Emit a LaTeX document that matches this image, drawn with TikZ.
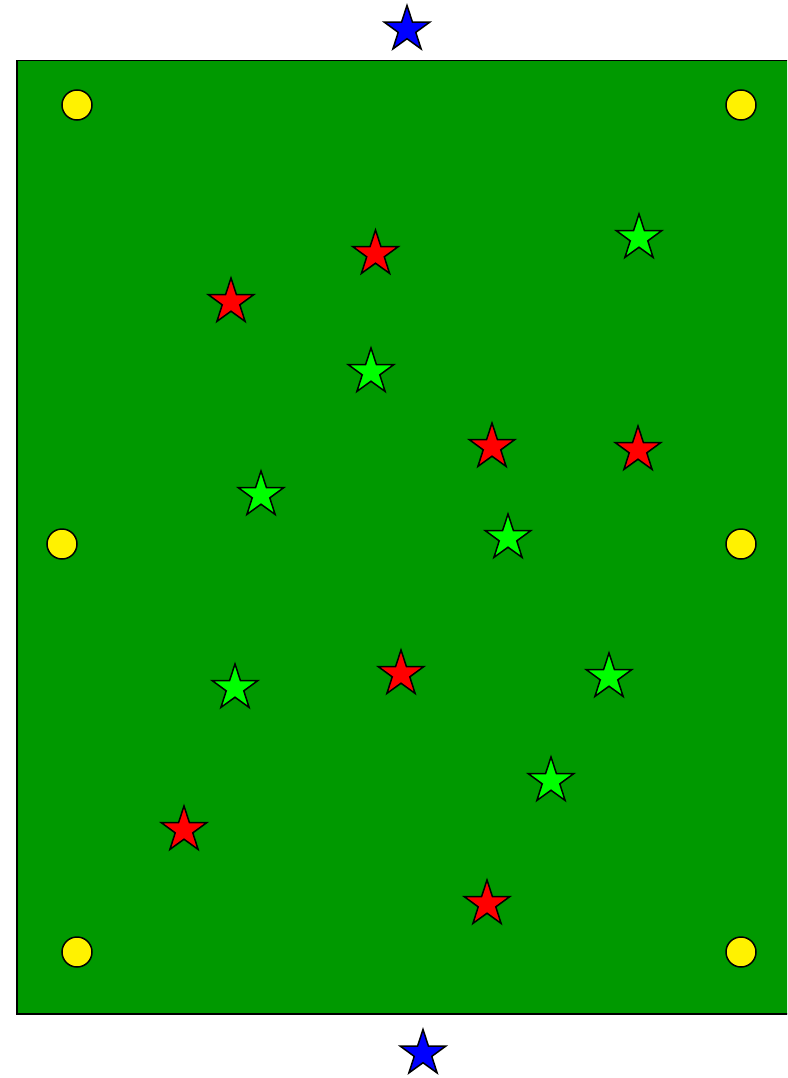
\documentclass[tikz,border=0pt]{standalone}
\usepackage{tikz}
\usetikzlibrary{shapes.geometric}
\definecolor{pitchgreen}{RGB}{0,153,0}
\tikzset{
  pitch/.style    = {draw, line width=1.5pt, fill=pitchgreen, inner sep=0pt, anchor=north west,
                     minimum width=800pt, minimum height=953pt},
  cone/.style     = {draw, circle, line width=1.5pt, fill=yellow, inner sep=0pt, minimum size=30pt},
  player/.style   = {draw, star, star points=5, star point ratio=2.6, line width=1.5pt,
                     inner sep=0pt, minimum size=48pt},
  redstar/.style  = {player, fill=red},
  greenstar/.style= {player, fill=green},
  bluestar/.style = {player, fill=blue},
}

\begin{document}
\begin{tikzpicture}[x=1pt, y=-1pt]
  \useasboundingbox (0,0) rectangle (787,1078);
  \clip (0,0) rectangle (787,1078);
  \node[pitch] (field) at (16,60) {};
  % corner and side cones
  \node[cone] (c1) at (77,105) {};  \node[cone] (c2) at (741,105) {};
  \node[cone] (c3) at (62,544) {};  \node[cone] (c4) at (741,544) {};
  \node[cone] (c5) at (77,952) {};  \node[cone] (c6) at (741,952) {};
  % goals
  \node[bluestar] (top) at (407,29.5) {};
  \node[bluestar] (bottom) at (423,1053.5) {};
  % red team
  \node[redstar] (r1) at (375.5,254) {};
  \node[redstar] (r2) at (231,302) {};
  \node[redstar] (r3) at (492,447) {};
  \node[redstar] (r4) at (638,450) {};
  \node[redstar] (r5) at (401,674) {};
  \node[redstar] (r6) at (184,830) {};
  \node[redstar] (r7) at (487,904) {};
  % green team
  \node[greenstar] (g1) at (639,238) {};
  \node[greenstar] (g2) at (371,372) {};
  \node[greenstar] (g3) at (261,495) {};
  \node[greenstar] (g4) at (508,538) {};
  \node[greenstar] (g5) at (235,688) {};
  \node[greenstar] (g6) at (609,677) {};
  \node[greenstar] (g7) at (551,781) {};
\end{tikzpicture}
\end{document}
